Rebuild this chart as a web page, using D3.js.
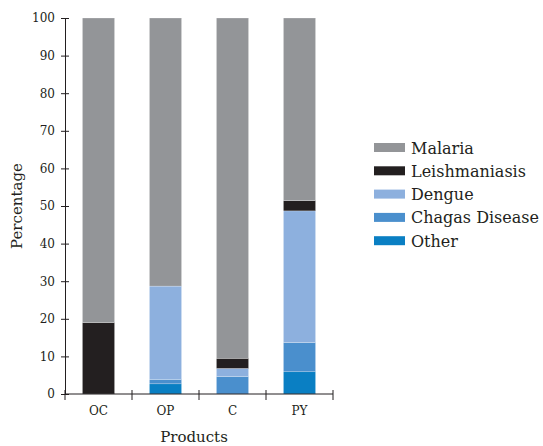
<!DOCTYPE html>
<html><head><meta charset="utf-8">
<script src="https://cdn.jsdelivr.net/npm/d3@7"></script>
<style>body{margin:0;background:#fff}svg{display:block}text{font-family:"DejaVu Serif",serif;fill:#231f20}</style>
</head><body>
<svg id="chart" width="543" height="446"></svg>
<script>
const categories = ["OC", "OP", "C", "PY"];
const seriesNames = ["Other", "Chagas Disease", "Dengue", "Leishmaniasis", "Malaria"];
const other = [0, 2.7, 0, 5.9];
const chagas = [0, 1.2, 4.6, 7.8];
const dengue = [0, 24.8, 2.2, 35.0];
const leishmaniasis = [19.0, 0, 2.7, 2.7];
const malaria = [81.0, 71.3, 90.5, 48.6];
const yTicks = [0, 10, 20, 30, 40, 50, 60, 70, 80, 90, 100];
const colors = {"Malaria":"#939598","Leishmaniasis":"#231f20","Dengue":"#8db0de","Chagas Disease":"#4a8fcd","Other":"#0a7fc3"};
const legendOrder = ["Malaria", "Leishmaniasis", "Dengue", "Chagas Disease", "Other"];

(function(){
const values = {"Other":other,"Chagas Disease":chagas,"Dengue":dengue,"Leishmaniasis":leishmaniasis,"Malaria":malaria};
const table = categories.map((c,i)=>{const o={cat:c};seriesNames.forEach(s=>o[s]=values[s][i]);return o;});
const stack = d3.stack().keys(seriesNames)(table);

const svg = d3.select("#chart");
const mLeft = 65, mRight = 333, mTop = 18, mBottom = 394;
const x = d3.scaleBand().domain(categories).range([mLeft, mRight]).paddingInner(0.52).paddingOuter(0.26);
const y = d3.scaleLinear().domain([0, 100]).range([mBottom, mTop]);

svg.append("g").selectAll("g").data(stack).join("g")
  .attr("fill", d => colors[d.key])
  .selectAll("rect").data(d => d).join("rect")
  .attr("x", d => x(d.data.cat))
  .attr("width", x.bandwidth())
  .attr("y", d => y(d[1]))
  .attr("height", d => Math.max(0, y(d[0]) - y(d[1])))
  .attr("stroke", "#fff").attr("stroke-width", 0.4).attr("stroke-opacity", 0.6);

const yAxis = svg.append("g").attr("transform", `translate(${mLeft},0)`)
  .call(d3.axisLeft(y).tickValues(yTicks).tickSize(4).tickPadding(7));
yAxis.select(".domain").attr("stroke", "#231f20");
yAxis.selectAll(".tick line").attr("x2", 4).attr("x1", -4).attr("stroke", "#231f20");
yAxis.selectAll("text").style("font-size", "12px").attr("x", -10);

const xa = svg.append("g").attr("transform", `translate(0,${mBottom})`);
xa.append("line").attr("x1", mLeft).attr("x2", mRight).attr("stroke", "#231f20");
const bounds = d3.range(categories.length + 1).map(i => mLeft + i * (mRight - mLeft) / categories.length);
xa.selectAll(".bt").data(bounds).join("line").attr("class","bt")
  .attr("x1", d => d).attr("x2", d => d).attr("y1", -4).attr("y2", 6).attr("stroke", "#231f20");
xa.selectAll(".lab").data(categories).join("text").attr("class","lab")
  .attr("x", d => x(d) + x.bandwidth()/2).attr("y", 21).attr("text-anchor", "middle")
  .style("font-size", "12px").text(d => d);

svg.append("text").attr("x", 194).attr("y", 442).attr("text-anchor", "middle")
  .style("font-size", "15px").text("Products");
svg.append("text").attr("transform", "translate(22,206) rotate(-90)").attr("text-anchor", "middle")
  .style("font-size", "15px").text("Percentage");

const lg = svg.append("g").attr("transform", "translate(374,148)");
const rows = lg.selectAll("g").data(legendOrder).join("g").attr("transform", (d,i) => `translate(0,${i*23.3})`);
rows.append("rect").attr("x", 0).attr("y", -5).attr("width", 31).attr("height", 9).attr("fill", d => colors[d]);
rows.append("text").attr("x", 37).attr("y", 5.5).style("font-size", "16px").text(d => d);
})();
</script>
</body></html>
